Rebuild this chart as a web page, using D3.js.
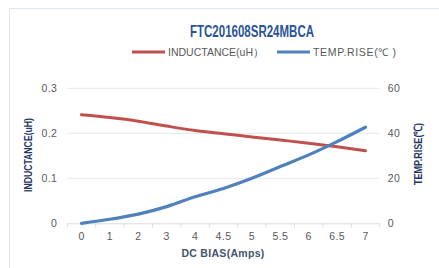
<!DOCTYPE html>
<html>
<head>
<meta charset="utf-8">
<script src="https://cdn.jsdelivr.net/npm/d3@7"></script>
<style>
  body { margin: 0; background: #fff; }
  svg { display: block; font-family: "Liberation Sans", Arial, sans-serif; }
</style>
</head>
<body>
<div id="chart"></div>
<script>
// chart data
const currents = ['0', '1', '2', '3', '4', '4.5', '5', '5.5', '6', '6.5', '7'];
const inductance = [0.241, 0.235, 0.227, 0.216, 0.206, 0.199, 0.192, 0.185, 0.178, 0.170, 0.161];
const tempRise = [0, 1.8, 4.1, 7.4, 11.8, 15.5, 20, 25.2, 30.4, 36.3, 42.7];
const leftTicks = [0, 0.1, 0.2, 0.3];
const rightTicks = [0, 20, 40, 60];

const width = 439, height = 268;
const plotLeft = 67.3, plotRight = 379.7, plotTop = 88.3, plotBottom = 223.3;

const svg = d3.select('#chart').append('svg')
  .attr('width', width)
  .attr('height', height);

// outer frame
svg.append('rect')
  .attr('x', 9.5).attr('y', 8.5)
  .attr('width', 440).attr('height', 270)
  .attr('fill', 'none')
  .attr('stroke', '#dde6ee');

const x = d3.scaleBand().domain(currents).range([plotLeft, plotRight]);
const yL = d3.scaleLinear().domain([0, 0.3]).range([plotBottom, plotTop]);
const yR = d3.scaleLinear().domain([0, 60]).range([plotBottom, plotTop]);

// gridlines
svg.append('g')
  .selectAll('line')
  .data(leftTicks.slice(1))
  .enter()
  .append('line')
  .attr('x1', plotLeft).attr('x2', plotRight)
  .attr('y1', d => yL(d)).attr('y2', d => yL(d))
  .attr('stroke', '#e4e8ec');

// x axis
const xAxis = svg.append('g')
  .attr('transform', `translate(0,${plotBottom})`)
  .call(d3.axisBottom(x).tickSize(0).tickPadding(9));
xAxis.select('.domain').attr('stroke', '#d6dbe0');
xAxis.selectAll('text').attr('fill', '#595959').attr('font-size', 10.5).attr('letter-spacing', 0.4);
// ticks between categories
const edges = currents.map(c => x(c)).concat([plotRight]);
xAxis.selectAll('.edge')
  .data(edges)
  .enter()
  .append('line')
  .attr('x1', d => d).attr('x2', d => d)
  .attr('y1', 0).attr('y2', 4)
  .attr('stroke', '#d6dbe0');

// left axis
const yAxisL = svg.append('g')
  .attr('transform', `translate(${plotLeft},0)`)
  .call(d3.axisLeft(yL).tickValues(leftTicks).tickFormat(d => d === 0 ? '0' : d3.format('.1f')(d)).tickSize(0).tickPadding(10));
yAxisL.select('.domain').remove();
yAxisL.selectAll('text').attr('fill', '#595959').attr('font-size', 10.5).attr('letter-spacing', 0.4);

// right axis
const yAxisR = svg.append('g')
  .attr('transform', `translate(${plotRight},0)`)
  .call(d3.axisRight(yR).tickValues(rightTicks).tickSize(0).tickPadding(8));
yAxisR.select('.domain').remove();
yAxisR.selectAll('text').attr('fill', '#595959').attr('font-size', 10.5).attr('letter-spacing', 0.4);

// lines
const cx = d => x(d) + x.bandwidth() / 2;
const lineL = d3.line()
  .x((d, i) => cx(currents[i]))
  .y(d => yL(d))
  .curve(d3.curveMonotoneX);
const lineR = d3.line()
  .x((d, i) => cx(currents[i]))
  .y(d => yR(d))
  .curve(d3.curveMonotoneX);

svg.append('path')
  .datum(inductance)
  .attr('d', lineL)
  .attr('fill', 'none')
  .attr('stroke', '#c0504d')
  .attr('stroke-width', 3)
  .attr('stroke-linecap', 'round');

svg.append('path')
  .datum(tempRise)
  .attr('d', lineR)
  .attr('fill', 'none')
  .attr('stroke', '#4f81bd')
  .attr('stroke-width', 3.2)
  .attr('stroke-linecap', 'round');

// title
svg.append('text')
  .attr('x', 252).attr('y', 37)
  .attr('text-anchor', 'middle')
  .attr('font-family', '"Liberation Sans Narrow", "Liberation Sans", sans-serif')
  .attr('font-weight', 'bold')
  .attr('font-size', 16.5)
  .attr('textLength', 124)
  .attr('lengthAdjust', 'spacingAndGlyphs')
  .attr('fill', '#2a5597')
  .text('FTC201608SR24MBCA');

// legend
const legend = [
  { label: 'INDUCTANCE(uH）', color: '#c0504d', x: 132, len: 96 },
  { label: 'TEMP.RISE(℃ )', color: '#4f81bd', x: 277, len: 83 }
];
const lg = svg.append('g');
lg.selectAll('line')
  .data(legend)
  .enter()
  .append('line')
  .attr('x1', d => d.x).attr('x2', d => d.x + 33)
  .attr('y1', 52).attr('y2', 52)
  .attr('stroke', d => d.color)
  .attr('stroke-width', 3);
lg.selectAll('text')
  .data(legend)
  .enter()
  .append('text')
  .attr('x', d => d.x + 36).attr('y', 56)
  .attr('font-size', 10.5)
  .attr('textLength', d => d.len)
  .attr('lengthAdjust', 'spacing')
  .attr('fill', '#595959')
  .text(d => d.label);

// axis titles
svg.append('text')
  .attr('transform', 'translate(32,155) rotate(-90)')
  .attr('text-anchor', 'middle')
  .attr('font-family', '"Liberation Sans Narrow", "Liberation Sans", sans-serif')
  .attr('font-weight', 'bold')
  .attr('font-size', 11.5)
  .attr('textLength', 74)
  .attr('lengthAdjust', 'spacingAndGlyphs')
  .attr('fill', '#1f3864')
  .text('INDUCTANCE(uH)');

svg.append('text')
  .attr('transform', 'translate(422,154) rotate(-90)')
  .attr('text-anchor', 'middle')
  .attr('font-family', '"Liberation Sans Narrow", "Liberation Sans", sans-serif')
  .attr('font-weight', 'bold')
  .attr('font-size', 11.5)
  .attr('textLength', 62)
  .attr('lengthAdjust', 'spacingAndGlyphs')
  .attr('fill', '#1f3864')
  .text('TEMP.RISE(℃)');

svg.append('text')
  .attr('x', 223).attr('y', 257)
  .attr('text-anchor', 'middle')
  .attr('font-weight', 'bold')
  .attr('font-size', 10.5)
  .attr('letter-spacing', 0.3)
  .attr('fill', '#44546a')
  .text('DC BIAS(Amps)');
</script>
</body>
</html>
